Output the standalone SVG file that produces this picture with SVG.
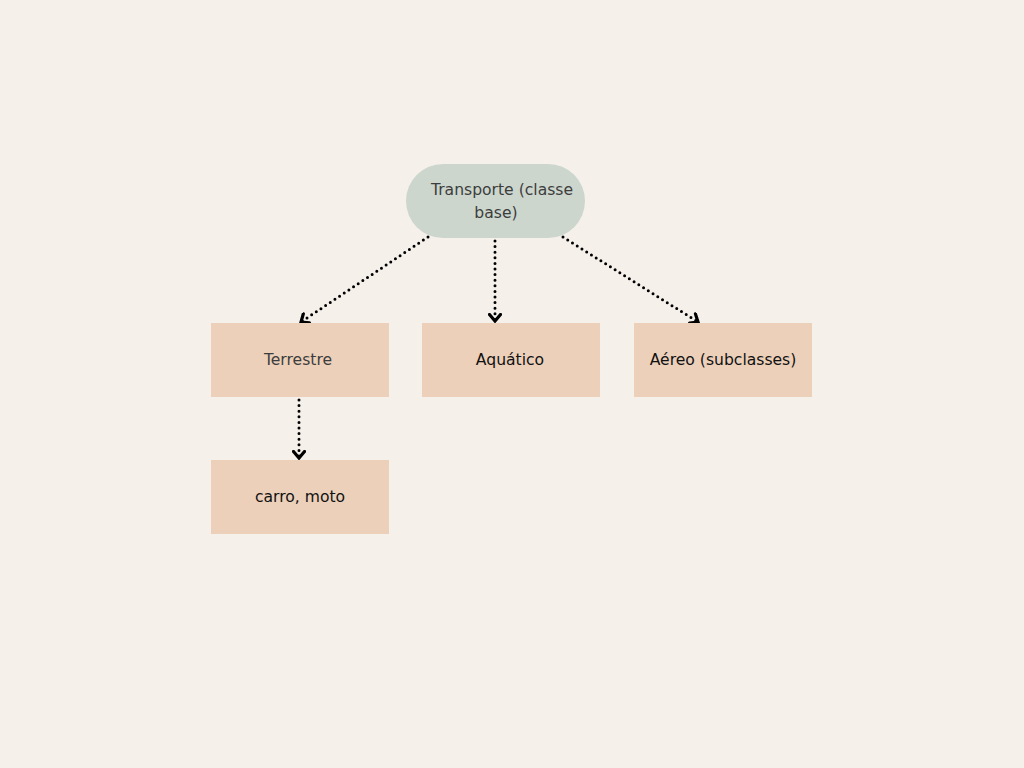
<svg xmlns="http://www.w3.org/2000/svg" width="1024" height="768" viewBox="0 0 1024 768">
  <defs>
    <marker id="arr" viewBox="0 0 14 14" refX="8.5" refY="7" markerWidth="14" markerHeight="14" markerUnits="userSpaceOnUse" orient="auto">
      <path d="M2,1.5 L8.5,7 L2,12.5" fill="none" stroke="#000" stroke-width="3.2" stroke-linecap="round" stroke-linejoin="miter"/>
    </marker>
    <style>
      .box { fill: #ecd0ba; }
      .pill { fill: #ccd6cd; }
      .t { font-family: "DejaVu Sans", "Noto Sans", sans-serif; font-size: 15.6px; text-anchor: middle; }
      .gray { fill: #3d3d3d; }
      .dark { fill: #111111; }
      .conn { fill: none; stroke: #000; stroke-width: 3; stroke-dasharray: 0 5.6; stroke-linecap: round; marker-end: url(#arr); }
    </style>
  </defs>
  <rect width="1024" height="768" fill="#f5f0ea"/>

  <g id="connectors">
    <path class="conn" d="M428,237 L301,322"/>
    <path class="conn" d="M495,241 L495,321"/>
    <path class="conn" d="M563,237 L698,322"/>
    <path class="conn" d="M299,400 L299,458"/>
  </g>

  <g id="transporte">
    <rect class="pill" x="406" y="164" width="179" height="74" rx="37" ry="37"/>
    <text class="t gray" x="502" y="195">Transporte (classe</text>
    <text class="t gray" x="496" y="218">base)</text>
  </g>
  <g id="terrestre">
    <rect class="box" x="211" y="323" width="178" height="74"/>
    <text class="t gray" x="298" y="365">Terrestre</text>
  </g>
  <g id="aquatico">
    <rect class="box" x="422" y="323" width="178" height="74"/>
    <text class="t dark" x="510" y="365">Aquático</text>
  </g>
  <g id="aereo">
    <rect class="box" x="634" y="323" width="178" height="74"/>
    <text class="t dark" x="723" y="365">Aéreo (subclasses)</text>
  </g>
  <g id="carro">
    <rect class="box" x="211" y="460" width="178" height="74"/>
    <text class="t dark" x="300" y="502">carro, moto</text>
  </g>
</svg>
